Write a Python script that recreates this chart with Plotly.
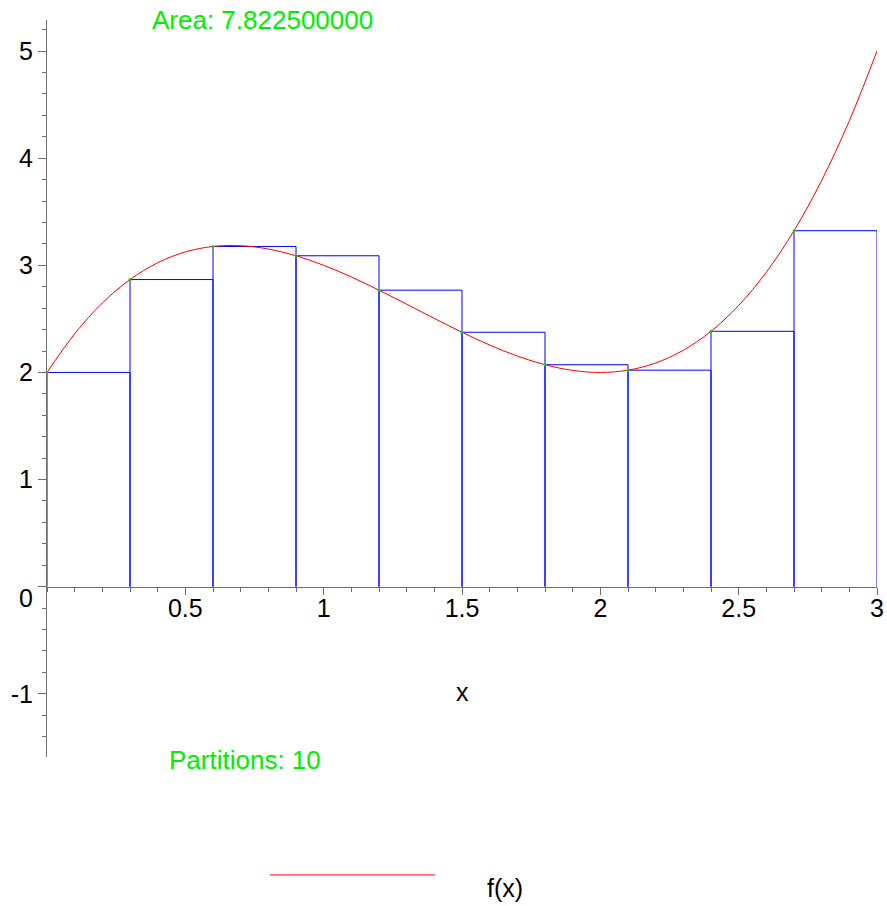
import plotly.graph_objects as go

# ---- data ----
partition_left = [0.0, 0.3, 0.6, 0.9, 1.2, 1.5, 1.8, 2.1, 2.4, 2.7]
partition_height = [2.0, 2.867, 3.176, 3.089, 2.768, 2.375, 2.072, 2.021, 2.384, 3.323]
partition_width = 0.3

curve_x = [0.0, 0.1, 0.2, 0.3, 0.4, 0.5, 0.6, 0.7, 0.8, 0.9, 1.0, 1.1, 1.2, 1.3, 1.4, 1.5,
           1.6, 1.7, 1.8, 1.9, 2.0, 2.1, 2.2, 2.3, 2.4, 2.5, 2.6, 2.7, 2.8, 2.9, 3.0]
curve_y = [2.0, 2.361, 2.648, 2.867, 3.024, 3.125, 3.176, 3.183, 3.152, 3.089, 3.0, 2.891,
           2.768, 2.637, 2.504, 2.375, 2.256, 2.153, 2.072, 2.019, 2.0, 2.021, 2.088, 2.207,
           2.384, 2.625, 2.936, 3.323, 3.792, 4.349, 5.0]

x_tick_vals = [0.5, 1, 1.5, 2, 2.5, 3]
x_tick_text = ["0.5", "1", "1.5", "2", "2.5", "3"]
y_tick_vals = [-1, 0, 1, 2, 3, 4, 5]
y_tick_text = ["-1", "", "1", "2", "3", "4", "5"]

area_text = "Area: 7.822500000"
partitions_text = "Partitions: 10"

# ---- build rectangle outlines ----
rx, ry = [], []
for x0, h in zip(partition_left, partition_height):
    x1 = x0 + partition_width
    rx += [x0, x0, x1, x1, None]
    ry += [0, h, h, 0, None]

FONT = "Liberation Sans, Arial, sans-serif"
AXIS_COLOR = "#6e6e6e"

fig = go.Figure()
fig.add_trace(go.Scatter(x=rx, y=ry, mode="lines", line=dict(color="#0000ff", width=1),
                         hoverinfo="skip", showlegend=False))
fig.add_trace(go.Scatter(x=curve_x, y=curve_y, mode="lines", name="f(x)",
                         line=dict(color="#ff0000", width=1, shape="spline"),
                         showlegend=False))
fig.add_trace(go.Scatter(x=partition_left, y=partition_height, mode="markers",
                         marker=dict(color="#00dd00", size=3), showlegend=False))

y_lo, y_hi = -1.59, 5.29
fig.update_layout(
    width=887, height=906,
    margin=dict(l=47, r=10, t=20, b=149),
    paper_bgcolor="white", plot_bgcolor="white",
    font=dict(family=FONT, size=25, color="black"),
    xaxis=dict(range=[0, 3], showgrid=False, zeroline=False, showline=True,
               linecolor=AXIS_COLOR, linewidth=1, automargin=False,
               anchor="free", position=(0 - y_lo) / (y_hi - y_lo),
               tickvals=x_tick_vals, ticktext=x_tick_text,
               ticks="outside", ticklen=7, tickcolor=AXIS_COLOR, tickwidth=1,
               ticklabelstandoff=-8,
               minor=dict(dtick=0.1, ticks="outside", ticklen=4, tickcolor=AXIS_COLOR),
               tickfont=dict(size=25, family=FONT)),
    yaxis=dict(range=[y_lo, y_hi], showgrid=False, zeroline=False, showline=True,
               linecolor=AXIS_COLOR, linewidth=1, automargin=False,
               tickvals=y_tick_vals, ticktext=y_tick_text,
               ticks="outside", ticklen=8, tickcolor=AXIS_COLOR, tickwidth=1,
               minor=dict(dtick=0.2, tick0=0, ticks="outside", ticklen=4, tickcolor=AXIS_COLOR),
               tickfont=dict(size=25, family=FONT)),
)

annotations = [
    dict(text=area_text, xref="paper", yref="paper", x=0.26, y=1.0, showarrow=False,
         xanchor="center", yanchor="middle", font=dict(color="#00ee00", size=26)),
    dict(text=partitions_text, xref="paper", yref="paper", x=0.2386, y=-0.004, showarrow=False,
         xanchor="center", yanchor="middle", font=dict(color="#00ee00", size=26)),
    dict(text="x", xref="paper", yref="paper", x=0.5, y=0.088, showarrow=False,
         xanchor="center", yanchor="middle", font=dict(size=25)),
    dict(text="0", xref="x", yref="y", x=0, y=0, showarrow=False, xanchor="right",
         yanchor="middle", xshift=-12, yshift=-11, font=dict(size=25)),
    dict(text="f(x)", xref="paper", yref="paper", x=0.5518, y=-0.1777, showarrow=False,
         xanchor="center", yanchor="middle", font=dict(size=25)),
]
fig.update_layout(annotations=annotations)
fig.add_shape(type="line", xref="paper", yref="paper", x0=0.2687, x1=0.4675, y0=-0.160, y1=-0.160,
              line=dict(color="#ff0000", width=1))

fig.write_html("out.html", config={"displayModeBar": False},
               post_script="document.body.style.margin='0';document.body.style.overflow='hidden';")
